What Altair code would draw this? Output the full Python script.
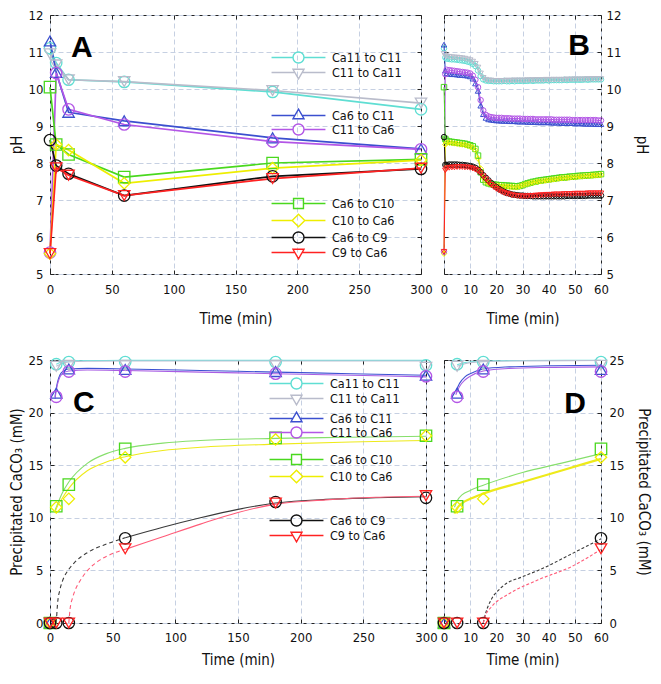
import altair as alt
import pandas as pd

FONT = "DejaVu Sans Condensed, DejaVu Sans, sans-serif"

SERIES = ["Ca11 to C11", "C11 to Ca11", "Ca6 to C11", "C11 to Ca6",
          "Ca6 to C10", "C10 to Ca6", "Ca6 to C9", "C9 to Ca6"]
MARKER_COLORS = ["#5fded3", "#b9bccb", "#3b4fcf", "#b356e6",
                 "#49d81e", "#eeee00", "#111111", "#ff2222"]
CURVE_COLORS = ["#6fe3dc", "#bcc2d4", "#3d52d2", "#a95ee4",
                "#86df6c", "#eeea1a", "#3a3a3a", "#ff5b78"]
MARKERS = ["circle", "triangle-down", "triangle-up", "circle",
           "square", "diamond", "circle", "triangle-down"]
LEGEND_GROUPS = [[0, 1], [2, 3], [4, 5], [6, 7]]
PANEL_LABELS = ["A", "B", "C", "D"]

# ---------------- Panel A : pH, 0-300 min ----------------
A_TIME = [0, 5, 15, 60, 180, 300]
A_PH = {
    "Ca11 to C11": [11.1, 10.7, 10.25, 10.19, 9.92, 9.45],
    "C11 to Ca11": [10.95, 10.65, 10.25, 10.2, 9.96, 9.62],
    "Ca6 to C11": [11.3, 10.45, 9.37, 9.14, 8.68, 8.38],
    "C11 to Ca6": [5.58, 10.43, 9.45, 9.04, 8.58, 8.37],
    "Ca6 to C10": [10.05, 8.5, 8.23, 7.62, 8.0, 8.1],
    "C10 to Ca6": [5.55, 8.5, 8.35, 7.45, 7.86, 8.08],
    "Ca6 to C9": [8.62, 7.93, 7.71, 7.12, 7.64, 7.84],
    "C9 to Ca6": [5.55, 7.87, 7.67, 7.12, 7.58, 7.86],
}

# ---------------- Panel B : pH, 0-60 min ----------------
B_TIME = [0, 0.5] + list(range(1, 61))
B_PH = {
    "Ca11 to C11": [11.1, 10.85,
                    10.82, 10.81, 10.80, 10.80, 10.79, 10.78, 10.77, 10.76, 10.74, 10.72,
                    10.68, 10.62, 10.50, 10.35, 10.26, 10.23, 10.22, 10.22, 10.21, 10.21,
                    10.21, 10.21, 10.22, 10.21, 10.21, 10.22, 10.21, 10.22, 10.22, 10.22,
                    10.22, 10.22, 10.23, 10.22, 10.23, 10.23, 10.23, 10.23, 10.24, 10.23,
                    10.24, 10.24, 10.24, 10.24, 10.24, 10.25, 10.24, 10.25, 10.25, 10.25,
                    10.25, 10.25, 10.25, 10.26, 10.25, 10.26, 10.26, 10.26, 10.26, 10.26],
    "C11 to Ca11": [10.95, 10.9,
                    10.88, 10.87, 10.86, 10.85, 10.85, 10.84, 10.83, 10.82, 10.80, 10.78,
                    10.74, 10.68, 10.58, 10.42, 10.30, 10.25, 10.23, 10.23, 10.22, 10.22,
                    10.22, 10.22, 10.22, 10.23, 10.22, 10.23, 10.23, 10.23, 10.23, 10.23,
                    10.23, 10.24, 10.23, 10.24, 10.24, 10.24, 10.24, 10.24, 10.25, 10.24,
                    10.25, 10.25, 10.25, 10.25, 10.25, 10.25, 10.26, 10.25, 10.26, 10.26,
                    10.26, 10.26, 10.26, 10.26, 10.27, 10.26, 10.27, 10.27, 10.27, 10.27],
    "Ca6 to C11": [11.2, 10.5,
                   10.42, 10.41, 10.40, 10.40, 10.39, 10.38, 10.38, 10.37, 10.36, 10.34,
                   10.28, 10.15, 9.95, 9.55, 9.32, 9.22, 9.18, 9.17, 9.16, 9.15,
                   9.15, 9.14, 9.14, 9.14, 9.13, 9.13, 9.13, 9.12, 9.12, 9.12,
                   9.12, 9.11, 9.11, 9.11, 9.11, 9.10, 9.10, 9.10, 9.10, 9.10,
                   9.09, 9.09, 9.09, 9.09, 9.08, 9.08, 9.08, 9.08, 9.08, 9.07,
                   9.07, 9.07, 9.07, 9.06, 9.06, 9.06, 9.06, 9.05, 9.05, 9.05],
    "C11 to Ca6": [5.6, 10.4,
                   10.52, 10.51, 10.50, 10.49, 10.48, 10.47, 10.46, 10.45, 10.44, 10.42,
                   10.36, 10.25, 10.05, 9.70, 9.42, 9.30, 9.26, 9.24, 9.23, 9.22,
                   9.22, 9.22, 9.21, 9.21, 9.21, 9.20, 9.20, 9.20, 9.20, 9.19,
                   9.19, 9.19, 9.19, 9.19, 9.18, 9.18, 9.18, 9.18, 9.18, 9.18,
                   9.18, 9.17, 9.17, 9.17, 9.17, 9.17, 9.17, 9.17, 9.16, 9.16,
                   9.16, 9.16, 9.16, 9.16, 9.16, 9.16, 9.16, 9.16, 9.15, 9.15],
    "Ca6 to C10": [10.05, 8.65,
                   8.60, 8.58, 8.57, 8.56, 8.55, 8.54, 8.53, 8.52, 8.50, 8.48,
                   8.45, 8.38, 8.20, 7.75, 7.55, 7.48, 7.45, 7.43, 7.42, 7.41,
                   7.40, 7.40, 7.39, 7.39, 7.38, 7.38, 7.37, 7.37, 7.38, 7.40,
                   7.43, 7.45, 7.47, 7.49, 7.50, 7.52, 7.53, 7.54, 7.55, 7.56,
                   7.57, 7.58, 7.59, 7.60, 7.61, 7.61, 7.62, 7.63, 7.63, 7.64,
                   7.65, 7.65, 7.66, 7.66, 7.67, 7.67, 7.68, 7.68, 7.69, 7.70],
    "C10 to Ca6": [5.55, 8.5,
                   8.55, 8.55, 8.54, 8.53, 8.52, 8.51, 8.50, 8.49, 8.47, 8.45,
                   8.42, 8.35, 8.12, 7.85, 7.60, 7.50, 7.45, 7.42, 7.40, 7.39,
                   7.38, 7.37, 7.37, 7.36, 7.36, 7.35, 7.35, 7.35, 7.37, 7.40,
                   7.42, 7.44, 7.46, 7.47, 7.49, 7.50, 7.51, 7.52, 7.53, 7.54,
                   7.55, 7.56, 7.57, 7.58, 7.59, 7.60, 7.60, 7.61, 7.62, 7.62,
                   7.63, 7.64, 7.64, 7.65, 7.65, 7.66, 7.66, 7.67, 7.67, 7.68],
    "Ca6 to C9": [8.7, 7.95,
                  7.95, 7.96, 7.96, 7.96, 7.96, 7.95, 7.95, 7.94, 7.93, 7.92,
                  7.90, 7.87, 7.82, 7.75, 7.67, 7.60, 7.53, 7.46, 7.40, 7.35,
                  7.30, 7.26, 7.22, 7.19, 7.17, 7.15, 7.14, 7.13, 7.12, 7.12,
                  7.11, 7.11, 7.11, 7.10, 7.10, 7.10, 7.10, 7.10, 7.10, 7.10,
                  7.10, 7.10, 7.10, 7.10, 7.10, 7.10, 7.11, 7.11, 7.11, 7.11,
                  7.11, 7.11, 7.11, 7.11, 7.12, 7.12, 7.12, 7.12, 7.12, 7.12],
    "C9 to Ca6": [5.6, 7.8,
                  7.85, 7.87, 7.88, 7.88, 7.89, 7.89, 7.89, 7.88, 7.88, 7.87,
                  7.85, 7.82, 7.78, 7.72, 7.64, 7.56, 7.48, 7.41, 7.35, 7.30,
                  7.26, 7.22, 7.19, 7.17, 7.15, 7.13, 7.12, 7.11, 7.10, 7.10,
                  7.10, 7.10, 7.11, 7.11, 7.12, 7.12, 7.13, 7.13, 7.14, 7.14,
                  7.14, 7.15, 7.15, 7.15, 7.15, 7.16, 7.16, 7.16, 7.16, 7.17,
                  7.17, 7.17, 7.17, 7.17, 7.18, 7.18, 7.18, 7.18, 7.18, 7.18],
}

# ---------------- Panels C / D : precipitated CaCO3 (mM) ----------------
C_TIME = [0, 5, 15, 60, 180, 300]
C_PPT = {
    "Ca11 to C11": [0, 24.6, 24.8, 24.8, 24.8, 24.5],
    "C11 to Ca11": [0, 24.4, 24.5, 24.5, 24.5, 24.3],
    "Ca6 to C11": [0, 21.85, 24.15, 24.1, 23.9, 23.55],
    "C11 to Ca6": [0, 21.5, 23.9, 23.9, 23.7, 23.45],
    "Ca6 to C10": [0, 11.1, 13.15, 16.55, 17.6, 17.8],
    "C10 to Ca6": [0, 11.0, 11.8, 15.75, 17.45, 17.8],
    "Ca6 to C9": [0, 0, 0, 8.05, 11.5, 11.9],
    "C9 to Ca6": [0, 0, 0, 7.05, 11.4, 12.1],
}

# fitted curves: (times, values) for solid and dashed parts
C_FIT_SOLID = {
    "Ca11 to C11": ([5, 10, 15, 30, 60, 120, 180, 240, 300],
                    [24.6, 24.85, 24.92, 24.95, 24.96, 24.96, 24.96, 24.96, 24.96]),
    "C11 to Ca11": ([5, 10, 15, 30, 60, 120, 180, 240, 300],
                    [24.4, 24.7, 24.82, 24.88, 24.9, 24.9, 24.9, 24.9, 24.9]),
    "Ca6 to C11": ([4, 5, 6, 8, 10, 15, 30, 60, 120, 180, 240, 300],
                   [21.5, 22.3, 22.9, 23.6, 23.9, 24.15, 24.2, 24.15, 24.0, 23.85, 23.7, 23.55]),
    "C11 to Ca6": ([4, 5, 6, 8, 10, 15, 30, 60, 120, 180, 240, 300],
                   [21.3, 22.1, 22.7, 23.4, 23.7, 23.95, 24.05, 24.0, 23.85, 23.7, 23.55, 23.4]),
    "Ca6 to C10": ([4, 5, 10, 15, 30, 45, 60, 90, 120, 180, 240, 300],
                   [10.7, 11.0, 12.4, 13.4, 15.2, 16.1, 16.6, 17.1, 17.35, 17.55, 17.65, 17.75]),
    "C10 to Ca6": ([4, 5, 10, 15, 30, 45, 60, 90, 120, 180, 240, 300],
                   [10.5, 10.85, 11.9, 12.8, 14.5, 15.3, 15.8, 16.4, 16.7, 17.0, 17.2, 17.35]),
    "Ca6 to C9": ([60, 90, 120, 150, 180, 220, 260, 300],
                  [8.1, 9.1, 10.0, 10.8, 11.4, 11.75, 11.9, 12.0]),
    "C9 to Ca6": ([60, 90, 120, 150, 180, 220, 260, 300],
                  [7.0, 8.2, 9.4, 10.5, 11.3, 11.7, 11.95, 12.05]),
}
C_FIT_DASHED = {
    "Ca6 to C9": ([5, 6, 8, 10, 15, 20, 30, 45, 60],
                  [0, 1.8, 3.2, 4.0, 5.1, 5.8, 6.7, 7.5, 8.1]),
    "C9 to Ca6": ([15, 16, 18, 20, 25, 30, 40, 50, 60],
                  [0, 1.3, 2.4, 3.1, 4.2, 5.0, 6.0, 6.6, 7.0]),
}
D_FIT_SOLID = {
    "Ca11 to C11": ([5, 8, 10, 15, 30, 60], [24.55, 24.75, 24.82, 24.9, 24.95, 24.97]),
    "C11 to Ca11": ([5, 8, 10, 15, 30, 60], [24.4, 24.65, 24.75, 24.85, 24.92, 24.95]),
    "Ca6 to C11": ([4.5, 6, 8, 10, 15, 25, 40, 60], [22.0, 22.8, 23.4, 23.7, 24.15, 24.35, 24.45, 24.5]),
    "C11 to Ca6": ([4.5, 6, 8, 10, 15, 25, 40, 60], [21.7, 22.5, 23.1, 23.45, 23.95, 24.2, 24.3, 24.35]),
    "Ca6 to C10": ([4, 5, 7, 10, 15, 30, 45, 60], [11.0, 11.6, 12.2, 12.6, 13.1, 14.3, 15.2, 16.1]),
    "C10 to Ca6": ([4, 5, 7, 10, 15, 30, 45, 60], [10.4, 10.9, 11.4, 11.8, 12.3, 13.4, 14.5, 15.6]),
}
D_FIT_DASHED = {
    "Ca6 to C9": ([15, 16, 18, 22, 30, 36, 49, 60], [0, 1.0, 2.2, 3.4, 4.4, 5.0, 6.6, 8.0]),
    "C9 to Ca6": ([15, 16, 18, 25, 36, 49, 60], [0, 0.8, 1.5, 2.8, 4.1, 5.4, 7.0]),
}


def long_points(times, table):
    rows = []
    for s in SERIES:
        for t, v in zip(times, table[s]):
            rows.append({"series": s, "t": t, "v": v})
    return pd.DataFrame(rows)


def long_curves(table):
    rows = []
    for s, (ts, vs) in table.items():
        for t, v in zip(ts, vs):
            rows.append({"series": s, "t": t, "v": v})
    return pd.DataFrame(rows)


A_df = long_points(A_TIME, A_PH)
B_df = long_points(B_TIME, B_PH)
C_df = long_points(C_TIME, C_PPT)
D_df = C_df[C_df["t"] <= 60]
C_solid = long_curves(C_FIT_SOLID)
C_dash = long_curves(C_FIT_DASHED)
D_solid = long_curves(D_FIT_SOLID)
D_dash = long_curves(D_FIT_DASHED)
EMPTY = pd.DataFrame({"t": [0], "v": [0]})

# ---------------- styling helpers ----------------
LABEL_FS, TITLE_FS = 13, 15

MARKER_PATHS = {
    "circle": ("M1,0A1,1,0,1,1,-1,0A1,1,0,1,1,1,0Z", 1.0),
    "triangle-up": ("M0,-1.15L1,0.58L-1,0.58Z", 0.66),
    "triangle-down": ("M0,1.15L1,-0.58L-1,-0.58Z", 0.66),
    "square": ("M-0.9,-0.9L0.9,-0.9L0.9,0.9L-0.9,0.9Z", 0.9),
    "diamond": ("M0,-1.15L1.15,0L0,1.15L-1.15,0Z", 1.15),
}


def legend_path(marker, half=4.9):
    p, gap = MARKER_PATHS[marker]
    return f"M{-half},0L{-gap},0M{gap},0L{half},0" + p


def stroke_enc(colors):
    return alt.Stroke("series:N", scale=alt.Scale(domain=SERIES, range=colors), legend=None)


def shape_enc():
    return alt.Shape("series:N", scale=alt.Scale(domain=SERIES, range=MARKERS), legend=None)


def tick_axis(orient, vals):
    return alt.Axis(orient=orient, offset=-4, values=vals, ticks=True, tickSize=4,
                    tickColor="#222", tickWidth=1, labels=False, grid=False,
                    domain=False, title=None)


def x_set(dom, vals, lp, tp):
    sc = alt.Scale(domain=dom, nice=False, zero=False)
    main = alt.X("t:Q", scale=sc, axis=alt.Axis(values=vals, title="Time (min)", titlePadding=tp,
                                                labelPadding=lp, format="d"))
    none = alt.X("t:Q", scale=sc, axis=None)
    t1 = alt.X("t:Q", scale=sc, axis=tick_axis("bottom", vals))
    t2 = alt.X("t:Q", scale=sc, axis=tick_axis("top", vals))
    return main, none, t1, t2


def y_set(dom, vals, title, orient, lp, tp):
    sc = alt.Scale(domain=dom, nice=False, zero=False)
    main = alt.Y("v:Q", scale=sc, axis=alt.Axis(values=vals, title=title, orient=orient,
                                                labelPadding=lp, titlePadding=tp, format="d"))
    none = alt.Y("v:Q", scale=sc, axis=None)
    t1 = alt.Y("v:Q", scale=sc, axis=tick_axis("left", vals))
    t2 = alt.Y("v:Q", scale=sc, axis=tick_axis("right", vals))
    return main, none, t1, t2


def tick_layers(xs, ys):
    return [
        alt.Chart(EMPTY).transform_filter("false").mark_point(opacity=0).encode(x=xs[2], y=ys[2]),
        alt.Chart(EMPTY).transform_filter("false").mark_point(opacity=0).encode(x=xs[3], y=ys[3]),
    ]


def legend_layers(x, y, lx, rows, row_pad):
    layers = []
    for g, ly in zip(LEGEND_GROUPS, rows):
        names = [SERIES[i] for i in g]
        leg = alt.Legend(orient="none", legendX=lx, legendY=ly, title=None, padding=0,
                         rowPadding=row_pad, symbolSize=121, symbolStrokeWidth=1.4,
                         symbolFillColor="transparent", labelFont=FONT, labelFontSize=12.5,
                         labelColor="#111", labelOffset=27, labelLimit=0)
        df = pd.DataFrame({"series": names, "t": [0] * len(names), "v": [0] * len(names)})
        layers.append(
            alt.Chart(df).transform_filter("false").mark_point(filled=False, opacity=1).encode(
                x=x, y=y,
                stroke=alt.Stroke("series:N", scale=alt.Scale(
                    domain=names, range=[MARKER_COLORS[i] for i in g]), legend=leg),
                shape=alt.Shape("series:N", scale=alt.Scale(
                    domain=names, range=[legend_path(MARKERS[i]) for i in g]), legend=leg),
            )
        )
    return layers


def panel_label(i, xpos, ypos, align):
    return alt.Chart(pd.DataFrame({"p": [PANEL_LABELS[i]]})).mark_text(
        font="Liberation Sans", fontSize=30, fontWeight="bold", align=align,
        baseline="top", color="#000").encode(text="p:N", x=alt.value(xpos), y=alt.value(ypos))


IND = dict(stroke="independent", shape="independent")
AX_IND = dict(x="independent", y="independent")

W_A, W_C, W_R, H_A, H_C = 371, 376, 157, 259, 263

# ---------------- Panel A ----------------
xA = x_set([0, 300], [0, 50, 100, 150, 200, 250, 300], 9, 15)
yA = y_set([5, 12], [5, 6, 7, 8, 9, 10, 11, 12], "pH", "left", 7, 4)
A_lines = alt.Chart(A_df).mark_line(strokeWidth=1.7).encode(
    x=xA[0], y=yA[0], stroke=stroke_enc(MARKER_COLORS), order="t:Q")
A_pts = alt.Chart(A_df).mark_point(size=130, strokeWidth=1.3, filled=False, opacity=1).encode(
    x=xA[1], y=yA[1], stroke=stroke_enc(MARKER_COLORS), shape=shape_enc())
A = alt.layer(A_lines, A_pts, *tick_layers(xA, yA),
              *legend_layers(xA[1], yA[1], 242, [36, 94, 182, 216], -1),
              panel_label(0, 21, 18, "left")
              ).resolve_scale(**IND).resolve_axis(**AX_IND).properties(width=W_A, height=H_A)

# ---------------- Panel B ----------------
xB = x_set([0, 60], [0, 10, 20, 30, 40, 50, 60], 9, 15)
yB = y_set([5, 12], [5, 6, 7, 8, 9, 10, 11, 12], "pH", "right", 5, 13)
B_lines = alt.Chart(B_df).mark_line(strokeWidth=1).encode(
    x=xB[0], y=yB[0], stroke=stroke_enc(MARKER_COLORS), order="t:Q")
B_pts = alt.Chart(B_df).mark_point(size=30, strokeWidth=1, filled=False, opacity=1).encode(
    x=xB[1], y=yB[1], stroke=stroke_enc(MARKER_COLORS), shape=shape_enc())
B = alt.layer(B_lines, B_pts, *tick_layers(xB, yB),
              panel_label(1, W_R - 11, 16, "right")
              ).resolve_scale(**IND).resolve_axis(**AX_IND).properties(width=W_R, height=H_A)

# ---------------- Panel C ----------------
TITLE_C = "Precipitated CaCO\u2083 (mM)"
xC = x_set([0, 300], [0, 50, 100, 150, 200, 250, 300], 8, 8)
yC = y_set([0, 25], [0, 5, 10, 15, 20, 25], TITLE_C, "left", 7, 4)
C_fit = alt.Chart(C_solid).mark_line(strokeWidth=1.1, interpolate="monotone").encode(
    x=xC[0], y=yC[0], stroke=stroke_enc(CURVE_COLORS), order="t:Q")
C_fitd = alt.Chart(C_dash).mark_line(strokeWidth=1.1, interpolate="monotone", strokeDash=[4, 3]).encode(
    x=xC[1], y=yC[1], stroke=stroke_enc(CURVE_COLORS), order="t:Q")
C_pts = alt.Chart(C_df).mark_point(size=130, strokeWidth=1.3, filled=False, opacity=1).encode(
    x=xC[1], y=yC[1], stroke=stroke_enc(MARKER_COLORS), shape=shape_enc())
C = alt.layer(C_fit, C_fitd, C_pts, *tick_layers(xC, yC),
              *legend_layers(xC[1], yC[1], 240, [17, 52, 93, 154], -1),
              panel_label(2, 23, 28, "left")
              ).resolve_scale(**IND).resolve_axis(**AX_IND).properties(width=W_C, height=H_C)

# ---------------- Panel D ----------------
xD = x_set([0, 60], [0, 10, 20, 30, 40, 50, 60], 8, 8)
yD = y_set([0, 25], [0, 5, 10, 15, 20, 25], TITLE_C, "right", 8, 12)
D_fit = alt.Chart(D_solid).mark_line(interpolate="monotone").encode(
    x=xD[0], y=yD[0], stroke=stroke_enc(CURVE_COLORS), order="t:Q",
    strokeWidth=alt.condition(alt.datum.series == "C10 to Ca6", alt.value(2.2), alt.value(1.1)))
D_fitd = alt.Chart(D_dash).mark_line(strokeWidth=1.1, interpolate="monotone", strokeDash=[3, 2]).encode(
    x=xD[1], y=yD[1], stroke=stroke_enc(CURVE_COLORS), order="t:Q")
D_pts = alt.Chart(D_df).mark_point(size=130, strokeWidth=1.3, filled=False, opacity=1).encode(
    x=xD[1], y=yD[1], stroke=stroke_enc(MARKER_COLORS), shape=shape_enc())
D = alt.layer(D_fit, D_fitd, D_pts, *tick_layers(xD, yD),
              panel_label(3, W_R - 15, 29, "right")
              ).resolve_scale(**IND).resolve_axis(**AX_IND).properties(width=W_R, height=H_C)

top = alt.hconcat(A, B, spacing=23, bounds="flush").resolve_scale(**IND)
bottom = alt.hconcat(C, D, spacing=18, bounds="flush").resolve_scale(**IND)

chart = alt.vconcat(top, bottom, spacing=26).resolve_scale(**IND).properties(
    padding=0
).configure_view(
    stroke="#222", strokeWidth=1
).configure_axis(
    labelFont=FONT, titleFont=FONT, labelFontSize=LABEL_FS, titleFontSize=TITLE_FS,
    labelColor="#111", titleColor="#111", titleFontWeight="normal",
    domain=False, ticks=False, grid=True, gridColor="#c6d0e2", gridDash=[5, 3],
    gridWidth=1, labelFlush=False, labelOverlap=False,
)

chart.save("out.html", embed_options={"renderer": "svg", "actions": False})
